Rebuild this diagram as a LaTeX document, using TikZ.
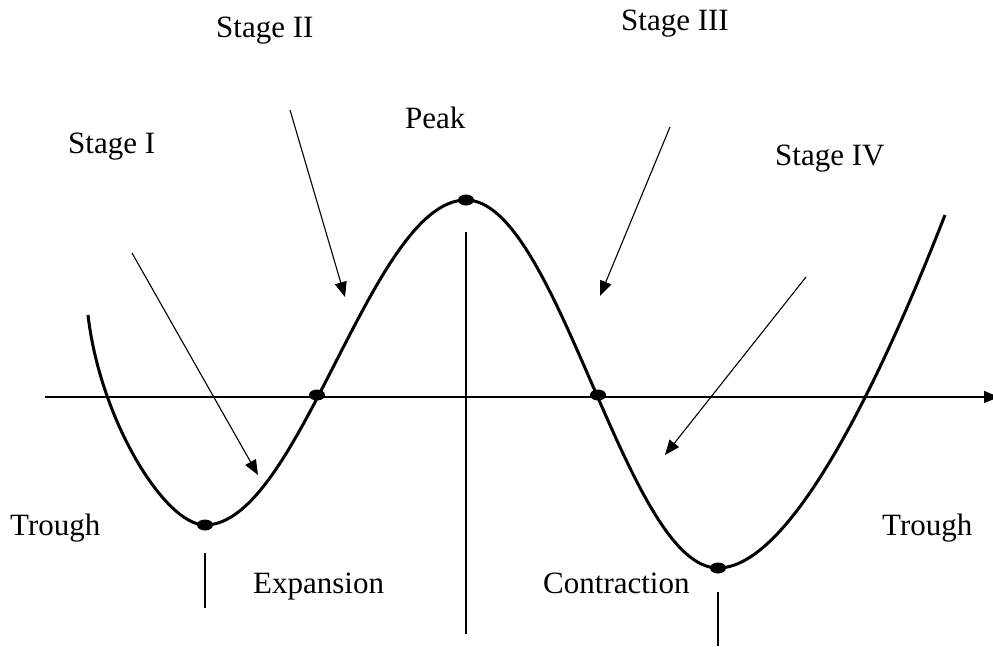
\documentclass[tikz,border=0pt]{standalone}
\usepackage{fontspec}
\setmainfont{Liberation Serif}
\usetikzlibrary{arrows.meta}
\tikzset{
  label/.style={anchor=base west, inner sep=0pt, font=\fontsize{31}{37}\selectfont},
  curve/.style={line width=3pt, line join=round},
  pointer/.style={-{Triangle[length=15pt, width=12pt]}, line width=1.1pt},
  tick/.style={line width=1.4pt},
  dot/.style={ellipse, fill=black, minimum width=16pt, minimum height=11pt, inner sep=0pt}
}
\usetikzlibrary{shapes.geometric}
\begin{document}
\begin{tikzpicture}[x=1pt, y=-1pt]
    \useasboundingbox (0,0) rectangle (993,646);
    % axis
    \coordinate (ax0) at (45,397);
    \coordinate (ax1) at (999,397);
    \draw[pointer, line width=1.3pt] (ax0) -- (ax1);
    % cycle
    \coordinate (c0) at (88,315);
    \coordinate (t1) at (205,525);
    \coordinate (pk) at (466,200);
    \coordinate (t2) at (718,568);
    \coordinate (c1) at (945,215);
    \draw[curve] (c0) .. controls (100,420) and (165,525) .. (t1)
      .. controls (300,525) and (371,200) .. (pk)
      .. controls (558,200) and (626,568) .. (t2)
      .. controls (800,568) and (900,330) .. (c1);
    \node[dot] (d1) at (t1) {};
    \node[dot] (d2) at (317,395) {};
    \node[dot] (d3) at (pk) {};
    \node[dot] (d4) at (598,395) {};
    \node[dot] (d5) at (t2) {};
    % labels
    \node[label] (s1) at (68,153) {Stage I};
    \node[label] (s2) at (216,37) {Stage II};
    \node[label] (s3) at (621,30) {Stage III};
    \node[label] (s4) at (775,165) {Stage IV};
    \node[label] (peak) at (405,128) {Peak};
    \node[label] (tr1) at (10,535) {Trough};
    \node[label] (tr2) at (882,535) {Trough};
    \node[label] (exp) at (253,593) {Expansion};
    \node[label] (con) at (543,593) {Contraction};
    % pointers
    \coordinate (p1a) at (132,253); \coordinate (p1b) at (258,475);
    \coordinate (p2a) at (290,110); \coordinate (p2b) at (345,297);
    \coordinate (p3a) at (670,127); \coordinate (p3b) at (600,296);
    \coordinate (p4a) at (806,277); \coordinate (p4b) at (665,455);
    \draw[pointer] (p1a) -- (p1b);
    \draw[pointer] (p2a) -- (p2b);
    \draw[pointer] (p3a) -- (p3b);
    \draw[pointer] (p4a) -- (p4b);
    % dividers
    \coordinate (v1a) at (205,553); \coordinate (v1b) at (205,608);
    \coordinate (v2a) at (466,232); \coordinate (v2b) at (466,634);
    \coordinate (v3a) at (718,592); \coordinate (v3b) at (718,646);
    \draw[tick] (v1a) -- (v1b);
    \draw[tick] (v2a) -- (v2b);
    \draw[tick] (v3a) -- (v3b);
\end{tikzpicture}
\end{document}
